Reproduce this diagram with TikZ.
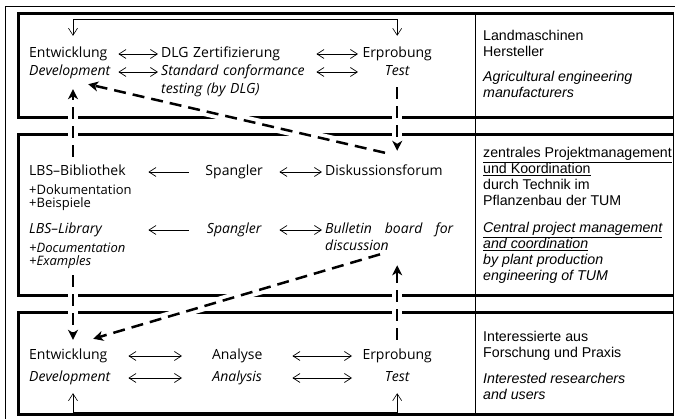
\documentclass[tikz,border=0pt]{standalone}
\usepackage{fontspec}
\setmainfont{Open Sans}
\newfontfamily\sidefont{Liberation Sans}
\usetikzlibrary{arrows.meta,calc}
\pgfdeclarelayer{frames}
\pgfdeclarelayer{links}
\pgfsetlayers{frames,links,main}

\tikzset{
  txt/.style={inner sep=0pt, anchor=base west, text height=11pt, text depth=3pt,
    font=\fontsize{14}{16}\selectfont},
  colA/.style={txt, text width=#1, align=left},
  colC/.style={txt, text width=#1, align=center},
  sub/.style={inner sep=0pt, anchor=base west, align=left,
    font=\fontsize{13}{13}\selectfont},
  subit/.style={sub, font=\fontsize{13}{13}\selectfont\itshape},
  side/.style={inner sep=0pt, anchor=base west, align=left,
    font=\sidefont\fontsize{14.2}{16}\selectfont},
  sideit/.style={side, font=\sidefont\fontsize{14.2}{16}\selectfont\itshape},
  band/.style={line width=3pt, line join=miter},
  rule/.style={line width=0.8pt},
  tipV/.tip={Straight Barb[length=7pt,width=9pt]},
  dbl/.style={line width=0.7pt, tipV-tipV, shorten <=3pt, shorten >=3pt},
  larr/.style={line width=0.7pt, tipV-, shorten <=3pt, shorten >=3pt},
  fb/.style={line width=0.6pt, tipV-tipV},
  dlink/.style={line width=2.5pt, dash pattern=on 12pt off 7pt,
    -{Stealth[length=10pt,width=10pt,inset=3pt]},
    preaction={draw=white, line width=10pt, solid, arrows=-}}
}

\begin{document}
\begin{tikzpicture}[x=1pt,y=-1pt]
\useasboundingbox (0,0) rectangle (675,419);
\coordinate (vx) at (73,0);

% frames
\begin{pgfonlayer}{frames}
\draw[rule] (5,419) -- (5,6) -- (675,6);
\foreach \ya/\yb in {14/118, 135/296, 313/415}
  \draw[band] (674,\ya) -- (18,\ya) -- (18,\yb) -- (674,\yb);
\draw[rule] (475,14) -- (475,415);
\draw[rule] (673.5,14) -- (673.5,415);
\end{pgfonlayer}

% manufacturers
\node[colA=86pt] (ent1) at (29,58) {Entwicklung};
\node[colA=152pt] (dlg1) at (161,58) {DLG Zertifizierung};
\node[colC=72pt] (erp1) at (361,58) {Erprobung};
\node[colA=86pt] (dev1) at (29,76) {\itshape Development};
\node[colA=152pt] (std1) at (161,76) {\itshape Standard conformance};
\node[colC=72pt] (test1) at (361,76) {\itshape Test};
\node[colA=152pt] (tst1) at (161,94) {\itshape testing (by DLG)};
\draw[dbl] (ent1) -- (dlg1);
\draw[dbl] (dlg1) -- (erp1);
\draw[dbl] (dev1) -- (std1);
\draw[dbl] (std1) -- (test1);
\draw[fb] ($(ent1.north -| vx)+(0,-11)$) -- ++(0,-16) -| ($(erp1.north)+(0,-11)$);

% project management
\node[colA=116pt] (lbs1) at (29,176) {LBS–Bibliothek};
\node[sub] (dok1) at (29,208) {+Dokumentation\\+Beispiele};
\node[colC=84pt] (spg1) at (192,176) {Spangler};
\node[colA=130pt] (disk1) at (325,176) {Diskussionsforum};
\node[colA=116pt] (lib2) at (29,234) {\itshape LBS–Library};
\node[subit] (doc2) at (29,266) {+Documentation\\+Examples};
\node[colC=84pt] (spg2) at (192,234) {\itshape Spangler};
\node[inner sep=0pt, anchor=base west, text width=128pt, align=justify,
  font=\fontsize{14}{17}\selectfont\itshape] (bul) at (325,234)
  {Bulletin board for\linebreak discussion};
\draw[larr] (lbs1) -- (spg1);
\draw[dbl] (spg1) -- (disk1);
\draw[larr] (lib2) -- (spg2);
\draw[dbl] (spg2) -- (spg2 -| bul.west);

% researchers and users
\node[colA=96pt] (ent3) at (29,360) {Entwicklung};
\node[colC=104pt] (ana3) at (185,360) {Analyse};
\node[colC=84pt] (erp3) at (355,360) {Erprobung};
\node[colA=96pt] (dev3) at (29,382) {\itshape Development};
\node[colC=104pt] (anl3) at (185,382) {\itshape Analysis};
\node[colC=84pt] (test3) at (355,382) {\itshape Test};
\draw[dbl] (ent3) -- (ana3);
\draw[dbl] (ana3) -- (erp3);
\draw[dbl] (dev3) -- (anl3);
\draw[dbl] (anl3) -- (test3);
\draw[fb] ($(dev3.south -| vx)+(0,8)$) -- ++(0,19) -| ($(test3.south)+(0,8)$);

% right column
\node[side] (who1) at (483,57) {Landmaschinen\\Hersteller};
\node[sideit] (who1e) at (483,98) {Agricultural engineering\\manufacturers};
\node[side] (who2) at (483,206)
  {\underline{zentrales Projektmanagement}\\\underline{und Koordination}\\durch Technik im\\Pflanzenbau der TUM};
\node[sideit] (who2e) at (483,281)
  {\underline{Central project management}\\\underline{and coordination}\\by plant production\\engineering of TUM};
\node[side] (who3) at (483,358) {Interessierte aus\\Forschung und Praxis};
\node[sideit] (who3e) at (483,400) {Interested researchers\\and users};

% dashed links
\begin{pgfonlayer}{links}
\draw[dlink, shorten <=8pt, shorten >=10pt] (lbs1.north -| vx) -- (dev1.south -| vx);
\draw[dlink, shorten <=8pt, shorten >=14pt] (test1.south) -- (disk1.north -| test1.south);
\draw[dlink] ($(disk1.north west)+(60,-12)$) -- ($(dev1.south)+(16,5)$);
\draw[dlink, shorten <=6pt, shorten >=9pt] (doc2.south -| vx) -- (ent3.north -| vx);
\draw[dlink] ($(bul.south west)+(55,3)$) -- ($(ent3.north)+(16,-10)$);
\draw[dlink, shorten <=9pt, shorten >=14pt] (erp3.north) -- (bul.south -| erp3.north);
\end{pgfonlayer}
\end{tikzpicture}
\end{document}
